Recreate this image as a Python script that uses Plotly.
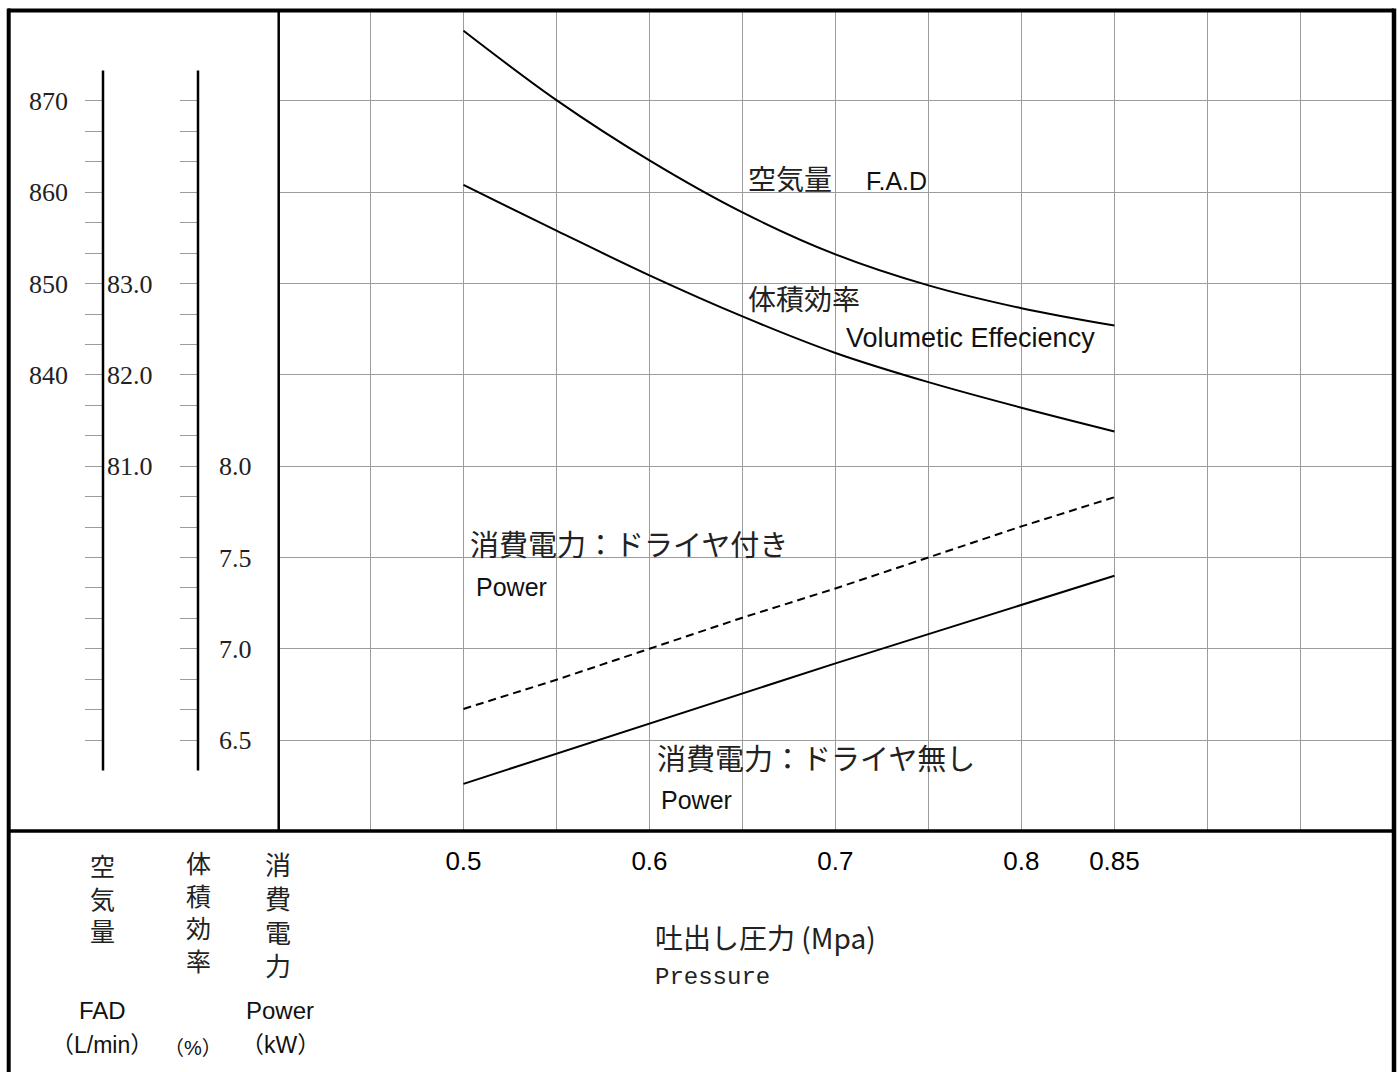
import plotly.graph_objects as go

W, H = 1398, 1072


def px(x):
    return x / W


def py(y):
    return 1 - y / H


# ---------------- data ----------------
pressure = [0.50, 0.55, 0.60, 0.65, 0.70, 0.75, 0.80, 0.85]
fad = [877.7, 870.1, 863.5, 857.8, 853.2, 849.8, 847.3, 845.4]
vol_eff = [84.08, 83.58, 83.09, 82.64, 82.24, 81.92, 81.64, 81.38]
power_dryer = [6.67, 6.83, 7.00, 7.17, 7.33, 7.50, 7.67, 7.83]
power_no_dryer = [6.26, 6.425, 6.59, 6.755, 6.92, 7.08, 7.24, 7.40]

x_ticks = [0.45, 0.50, 0.55, 0.60, 0.65, 0.70, 0.75, 0.80, 0.85, 0.90, 0.95]
x_labels = ["", "0.5", "", "0.6", "", "0.7", "", "0.8", "0.85", "", ""]

power_ticks = [6.5, 7.0, 7.5, 8.0, 8.5, 9.0, 9.5, 10.0]
power_labels = ["6.5", "7.0", "7.5", "8.0", "", "", "", ""]
ve_ticks = [78, 79, 80, 81, 82, 83, 84, 85]
ve_labels = ["", "", "", "81.0", "82.0", "83.0", "", ""]
fad_ticks = [840, 850, 860, 870]
fad_labels = ["840", "850", "860", "870"]

power_range = [6.0, 10.5]
ve_range = [77, 86]
fad_range = [790, 880]

power_minor = [power_ticks[0] + k / 6 for k in range(22)]
ve_minor = [ve_ticks[0] + k / 3 for k in range(22)]

GRID = "#9c9c9c"
SERIF = dict(family="Liberation Serif, DejaVu Serif, serif", size=26, color="#222")
SANS = "Liberation Sans, Arial, sans-serif"
CJK = "Noto Sans CJK JP, sans-serif"

fig = go.Figure()
fig.add_trace(go.Scatter(x=pressure, y=fad, yaxis="y3", mode="lines",
                         line=dict(color="black", width=2, shape="spline")))
fig.add_trace(go.Scatter(x=pressure, y=vol_eff, yaxis="y2", mode="lines",
                         line=dict(color="black", width=2, shape="spline")))
fig.add_trace(go.Scatter(x=pressure, y=power_dryer, mode="lines",
                         line=dict(color="black", width=2, dash="8px,5px")))
fig.add_trace(go.Scatter(x=pressure, y=power_no_dryer, mode="lines",
                         line=dict(color="black", width=2)))

fig.update_layout(
    width=W, height=H, margin=dict(l=0, r=0, t=0, b=0),
    paper_bgcolor="white", plot_bgcolor="white", showlegend=False,
    xaxis=dict(domain=[px(277.5), px(1393.4)], range=[0.4, 1.0],
               tickvals=x_ticks, ticktext=x_labels, ticks="",
               showgrid=True, gridcolor=GRID, gridwidth=1, zeroline=False,
               showline=False, automargin=False, ticklabelstandoff=12,
               tickfont=dict(family="Liberation Sans Narrow, " + SANS, size=26, color="black")),
    yaxis=dict(domain=[py(831.3), py(9.7)], range=power_range,
               anchor="free", position=px(198), side="right",
               tickvals=power_ticks, ticktext=power_labels,
               ticks="inside", ticklen=18, tickcolor=GRID, tickwidth=1,
               minor=dict(tickvals=power_minor, ticks="inside", ticklen=18,
                          tickcolor=GRID, tickwidth=1, showgrid=False),
               showgrid=True, gridcolor=GRID, gridwidth=1, zeroline=False,
               showline=False, automargin=False, ticklabelstandoff=20,
               tickfont=SERIF),
    yaxis2=dict(overlaying="y", range=ve_range, anchor="free",
                position=px(103), side="right",
                tickvals=ve_ticks, ticktext=ve_labels,
                ticks="inside", ticklen=18, tickcolor=GRID, tickwidth=1,
                minor=dict(tickvals=ve_minor, ticks="inside", ticklen=18,
                           tickcolor=GRID, tickwidth=1, showgrid=False),
                showgrid=False, zeroline=False, showline=False,
                automargin=False, ticklabelstandoff=3, tickfont=SERIF),
    yaxis3=dict(overlaying="y", range=fad_range, anchor="free",
                position=px(103), side="left",
                tickvals=fad_ticks, ticktext=fad_labels, ticks="",
                showgrid=False, zeroline=False, showline=False,
                automargin=False, ticklabelstandoff=35, tickfont=SERIF),
)

# scale lines and frame
scale_lo = power_minor[0] - 1 / 6
scale_hi = power_minor[-1] + 1 / 6
shapes = []
for xx in (103, 198):
    shapes.append(dict(type="line", xref="paper", yref="y", x0=px(xx), x1=px(xx),
                       y0=scale_lo, y1=scale_hi, line=dict(color="black", width=2.5)))
frame = [
    (8, 10.5, 1394, 10.5, 4),     # top
    (8.7, 8.5, 8.7, 1080, 4),     # left
    (1394, 8.5, 1394, 1080, 4.5),  # right
    (8, 831, 1394, 831, 3.5),     # middle horizontal
    (278.7, 10.5, 278.7, 831, 2.5),  # divider
]
for x0, y0, x1, y1, w in frame:
    shapes.append(dict(type="line", xref="paper", yref="paper",
                       x0=px(x0), y0=py(y0), x1=px(x1), y1=py(y1),
                       line=dict(color="black", width=w)))
fig.update_layout(shapes=shapes)


def ann(text, x, y, size, family, xanchor="left", yanchor="middle", color="#111"):
    fig.add_annotation(text=text, x=px(x), y=py(y), xref="paper", yref="paper",
                       xanchor=xanchor, yanchor=yanchor, showarrow=False,
                       font=dict(family=family, size=size, color=color), align="center")


ann("空気量", 746, 178, 28, CJK, color="#222")
ann("F.A.D", 864, 181, 25, SANS)
ann("体積効率", 746, 298, 28, CJK, color="#222")
ann("Volumetic Effeciency", 844, 338, 27, SANS)
ann("消費電力：ドライヤ付き", 468, 543, 29, CJK, color="#222")
ann("Power", 474, 587, 25, SANS)
ann("消費電力：ドライヤ無し", 655, 757, 29, CJK, color="#222")
ann("Power", 659, 800, 25, SANS)
ann("吐出し圧力 (Mpa)", 653, 937, 28, CJK, color="#222")
ann("Pressure", 653, 977, 24, "Liberation Mono, monospace", color="#222")

ann("空<br>気<br>量", 103, 845, 25, CJK, xanchor="center", yanchor="top", color="#222")
ann("体<br>積<br>効<br>率", 198, 842, 25, CJK, xanchor="center", yanchor="top", color="#222")
ann("消<br>費<br>電<br>力", 278, 843, 26, CJK, xanchor="center", yanchor="top", color="#222")
ann("FAD", 103, 1010, 24, SANS, xanchor="center")
ann("（L/min）", 102, 1045, 23, SANS + ", " + CJK, xanchor="center")
ann("（%）", 193, 1048, 20, SANS + ", " + CJK, xanchor="center")
ann("Power", 280, 1010, 24, SANS, xanchor="center")
ann("（kW）", 280, 1045, 23, SANS + ", " + CJK, xanchor="center")

fig.write_html(
    "out.html",
    config={"displayModeBar": False},
    post_script="document.body.style.margin='0px';document.body.style.overflow='hidden';",
)
